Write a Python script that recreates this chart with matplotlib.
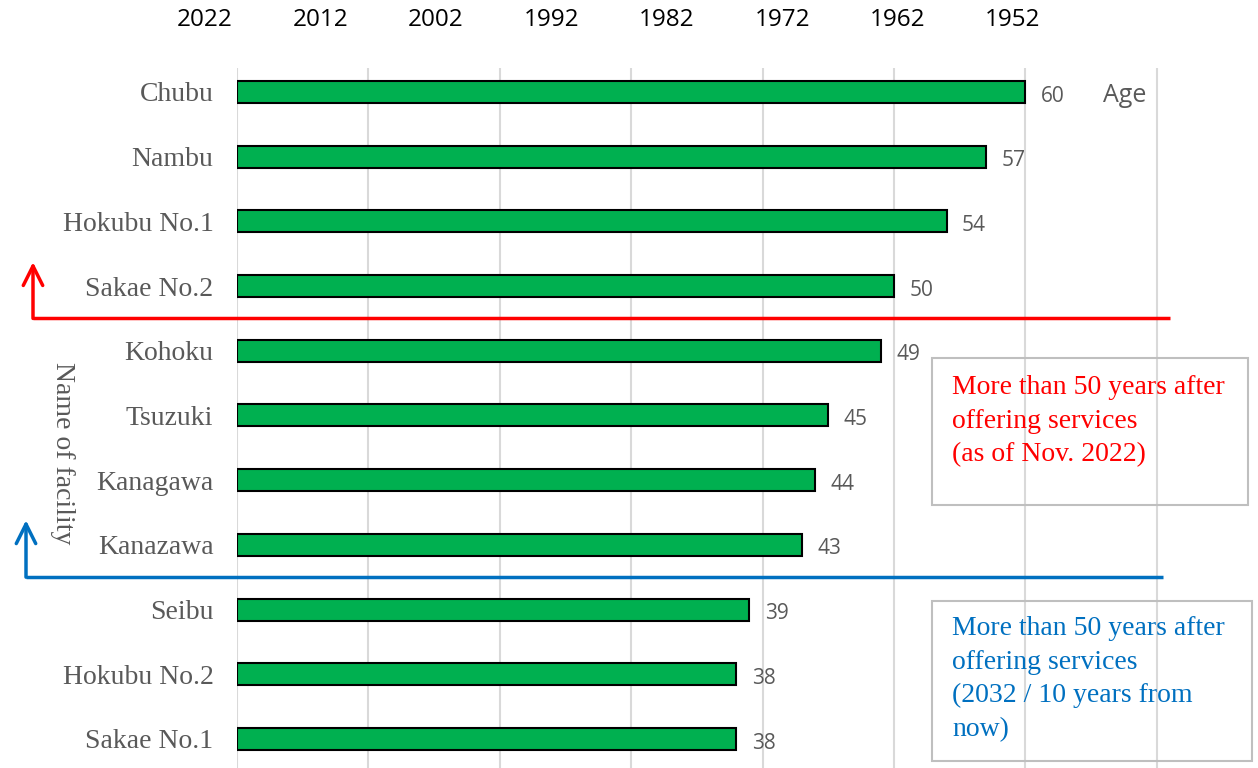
import matplotlib.pyplot as plt
from matplotlib.patches import Rectangle
from matplotlib.transforms import blended_transform_factory

# facilities (top to bottom) and their age in years
facilities = ['Chubu', 'Nambu', 'Hokubu No.1', 'Sakae No.2', 'Kohoku', 'Tsuzuki',
              'Kanagawa', 'Kanazawa', 'Seibu', 'Hokubu No.2', 'Sakae No.1']
ages = [60, 57, 54, 50, 49, 45, 44, 43, 39, 38, 38]
age_ticks = [0, 10, 20, 30, 40, 50, 60, 70]
years = [2022, 2012, 2002, 1992, 1982, 1972, 1962, 1952]

W, H = 1258, 768
fig = plt.figure(figsize=(W / 100, H / 100), dpi=100)

GREY = '#595959'
SERIF = 'Liberation Serif'
SANS = 'Open Sans'

# main bar axes
ax = fig.add_axes([237 / W, 0, 933 / W, 1 - 68 / H])
pos = list(range(len(facilities)))
ax.barh(pos, ages, height=0.34, color='#00B050', edgecolor='black', linewidth=1.5, zorder=3)
ax.set_xlim(0, 71)
ax.set_ylim(10.45, -0.371)
ax.set_xticks(age_ticks)
ax.set_xticklabels([])
ax.tick_params(axis='x', length=0)
ax.grid(axis='x', color='#D9D9D9', linewidth=1.5, zorder=0)
ax.set_yticks(pos)
ax.set_yticklabels(facilities, fontfamily=SERIF, fontsize=20, color=GREY)
ax.tick_params(axis='y', length=0, pad=17)
for s in ax.spines.values():
    s.set_visible(False)

for p, a in zip(pos, ages):
    ax.annotate(str(a), (a, p), xytext=(11, -3), textcoords='offset points',
                ha='left', va='center', fontfamily=SANS, fontsize=15, color=GREY)

fig.text(1103 / W, 1 - 96 / H, 'Age', ha='left', va='center',
         fontfamily=SANS, fontsize=18, color=GREY)

# year axis at the top (calendar year of start of service)
ax_top = fig.add_axes([150 / W, 1 - 32 / H, 950 / W, 0.0001])
ax_top.set_xlim(2022 + 55 / 11.543, 1952 - 87 / 11.543)
ax_top.set_xticks(years)
ax_top.set_xticklabels([str(y) for y in years], fontfamily=SANS, fontsize=17.5, color='black')
ax_top.tick_params(axis='x', length=0, pad=0, labelbottom=False, labeltop=True)
ax_top.set_yticks([])
for s in ax_top.spines.values():
    s.set_visible(False)
ax_top.patch.set_visible(False)

fig.text(62 / W, 1 - 453 / H, 'Name of facility', rotation=270, ha='center', va='center',
         fontfamily=SERIF, fontsize=20, color=GREY)

# threshold lines with arrows
tr = blended_transform_factory(fig.transFigure, ax.transData)
for x0, x1, ysep, ytop, col in [(33, 1170, 3.5, 2.63, '#FF0000'), (26, 1163, 7.5, 6.62, '#0070C0')]:
    ax.plot([x0 / W, x1 / W], [ysep, ysep], color=col, linewidth=2.5, transform=tr,
            clip_on=False, solid_capstyle='butt', zorder=5)
    ax.annotate('', xy=(x0 / W, ytop), xytext=(x0 / W, ysep), xycoords=tr, textcoords=tr,
                arrowprops=dict(arrowstyle='->,head_length=1.4,head_width=0.7', color=col,
                                linewidth=2.5, shrinkA=0, shrinkB=0))

# annotation boxes
fig.patches.append(Rectangle((932 / W, 1 - 505 / H), 316 / W, 147 / H, transform=fig.transFigure,
                             fill=False, edgecolor='#BFBFBF', linewidth=1.5))
fig.patches.append(Rectangle((932 / W, 1 - 761 / H), 320 / W, 160 / H, transform=fig.transFigure,
                             fill=False, edgecolor='#BFBFBF', linewidth=1.5))
fig.text(952 / W, 1 - 375 / H, 'More than 50 years after\noffering services\n(as of Nov. 2022)',
         ha='left', va='top', fontfamily=SERIF, fontsize=20, color='#FF0000', linespacing=1.45)
fig.text(952 / W, 1 - 616 / H, 'More than 50 years after\noffering services\n(2032 / 10 years from\nnow)',
         ha='left', va='top', fontfamily=SERIF, fontsize=20, color='#0070C0', linespacing=1.45)

fig.savefig('out.png', dpi=100)
